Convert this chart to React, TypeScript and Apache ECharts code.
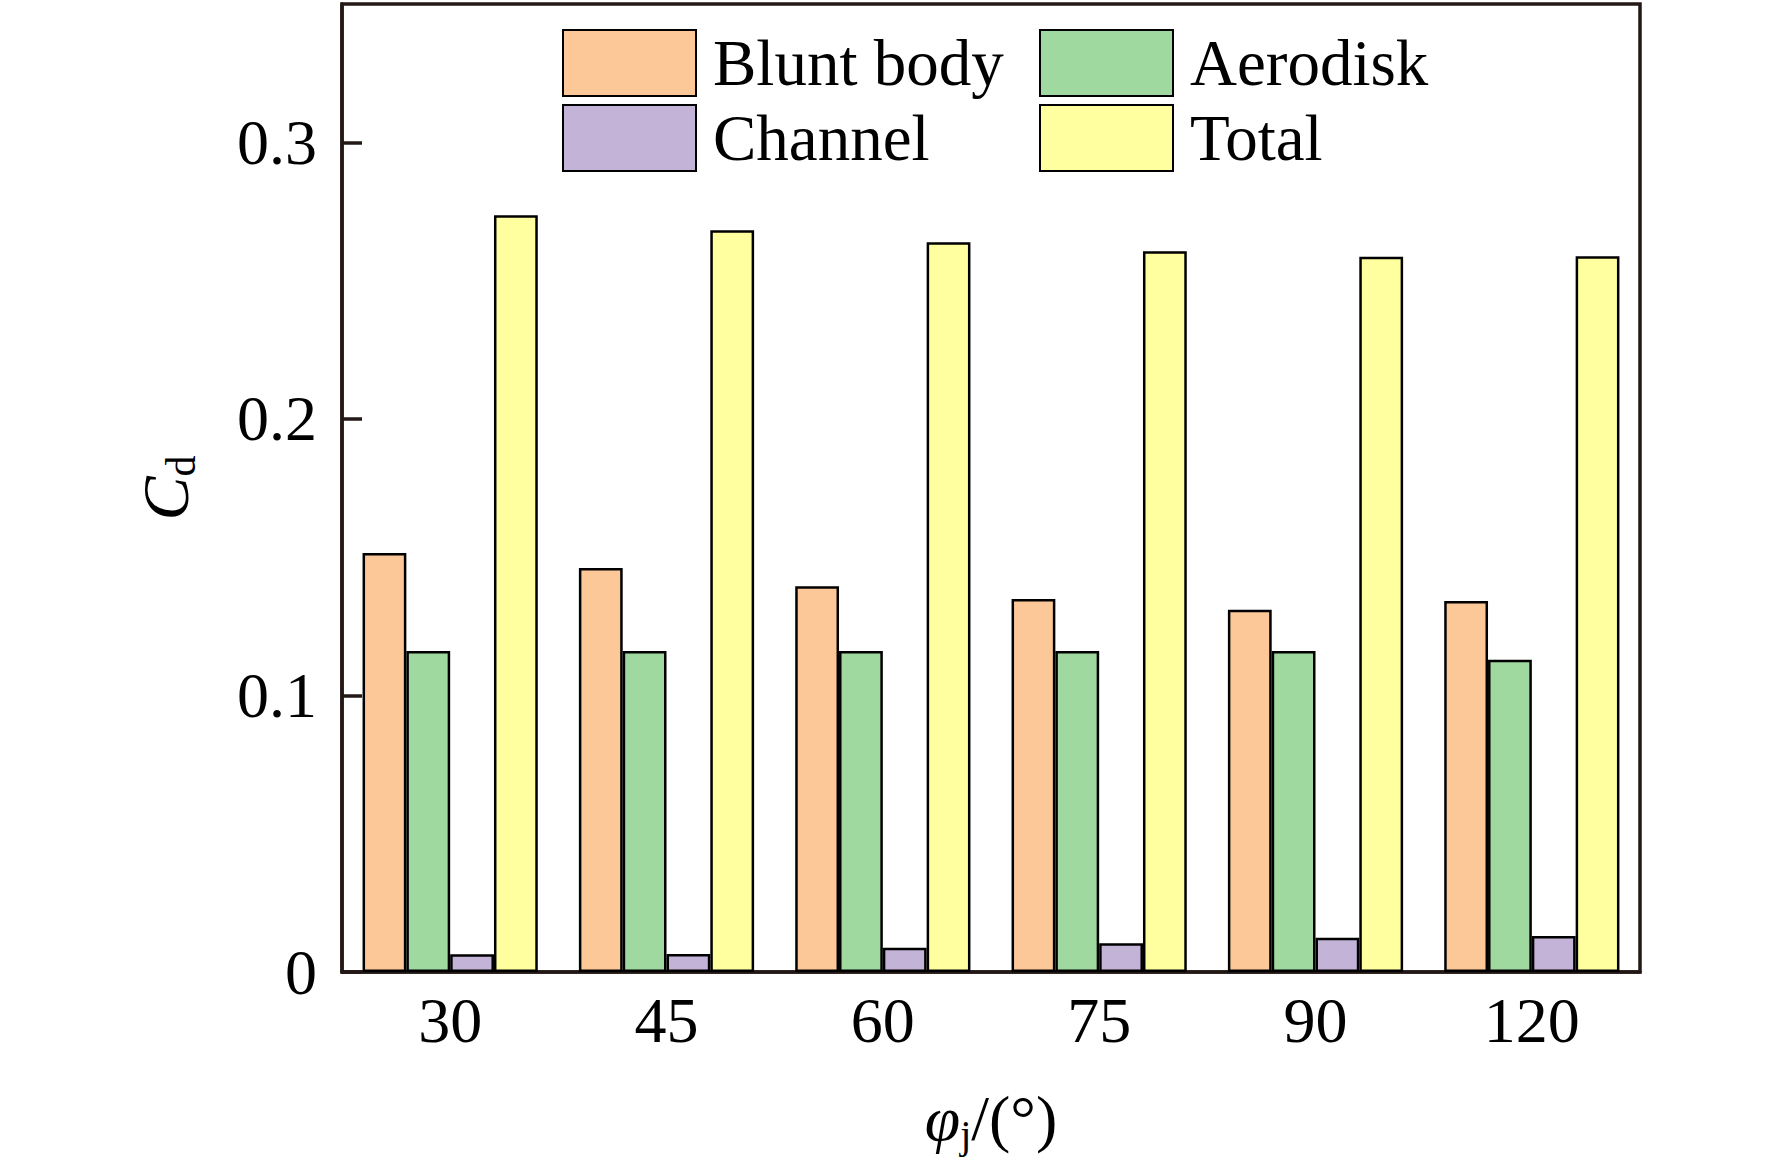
import { useEffect, useRef } from "react";
import * as echarts from "echarts";

const FONT = "'Liberation Serif', 'Times New Roman', serif";
const INK = "#231815";

// 射流角 φj (°)
const ANGLES = ["30", "45", "60", "75", "90", "120"];
// Cd 分量
const BLUNT_BODY = [0.1515, 0.1461, 0.1395, 0.1349, 0.131, 0.1341];
const AERODISK = [0.1161, 0.1161, 0.1161, 0.1161, 0.1161, 0.1129];
const CHANNEL = [0.0064, 0.0065, 0.0088, 0.0104, 0.0124, 0.013];
const TOTAL = [0.2736, 0.2682, 0.2639, 0.2606, 0.2586, 0.2588];

const Y_MIN = 0;
const Y_MAX = 0.35;
const Y_STEP = 0.1;

const SERIES = [
  { name: "Blunt body", data: BLUNT_BODY, color: "#FDC897" },
  { name: "Aerodisk", data: AERODISK, color: "#A0D9A0" },
  { name: "Channel", data: CHANNEL, color: "#C3B3D6" },
  { name: "Total", data: TOTAL, color: "#FFFF9F" },
];

const legendBase = {
  orient: "vertical" as const,
  top: 24,
  itemWidth: 133,
  itemHeight: 66,
  itemGap: 7,
  icon: "rect",
  textStyle: { fontFamily: FONT, fontSize: 65, color: "#000", padding: [0, 0, 0, 12] },
};

export default function App() {
  const elRef = useRef<HTMLDivElement>(null);

  useEffect(() => {
    document.body.style.margin = "0";
    const el = elRef.current;
    if (!el) return;
    const chart = echarts.init(el, undefined, { renderer: "svg" });

    chart.setOption({
      animation: false,
      backgroundColor: "#fff",
      grid: {
        left: 342,
        right: 132,
        top: 4,
        bottom: 202,
        show: true,
        borderColor: INK,
        borderWidth: 3.5,
      },
      legend: [
        { ...legendBase, left: 557, data: ["Blunt body", "Channel"] },
        { ...legendBase, left: 1034, data: ["Aerodisk", "Total"] },
      ],
      xAxis: {
        type: "category",
        data: ANGLES,
        name: "{phi|φ}{sub|j}{txt|/(°)}",
        nameLocation: "middle",
        nameGap: 110,
        nameTextStyle: {
          fontFamily: FONT,
          color: "#000",
          rich: {
            phi: { fontFamily: FONT, fontSize: 64, fontStyle: "italic", lineHeight: 72, color: "#000" },
            sub: { fontFamily: FONT, fontSize: 40, verticalAlign: "bottom", lineHeight: 72, color: "#000" },
            txt: { fontFamily: FONT, fontSize: 64, lineHeight: 72, color: "#000" },
          },
        },
        axisLine: { lineStyle: { color: INK, width: 3.5 } },
        axisTick: { inside: true, alignWithLabel: true, length: 20, lineStyle: { color: INK, width: 3.5 } },
        axisLabel: { fontFamily: FONT, fontSize: 64, color: "#000", margin: 16 },
      },
      yAxis: {
        type: "value",
        min: Y_MIN,
        max: Y_MAX,
        interval: Y_STEP,
        name: "{c|C}{sub|d}",
        nameLocation: "middle",
        nameRotate: 90,
        nameGap: 140,
        nameTextStyle: {
          fontFamily: FONT,
          color: "#000",
          rich: {
            c: { fontFamily: FONT, fontSize: 66, fontStyle: "italic", lineHeight: 74, color: "#000" },
            sub: { fontFamily: FONT, fontSize: 42, verticalAlign: "bottom", lineHeight: 74, color: "#000" },
          },
        },
        splitLine: { show: false },
        axisLine: { show: true, lineStyle: { color: INK, width: 3.5 } },
        axisTick: { show: true, inside: true, length: 20, lineStyle: { color: INK, width: 3.5 } },
        axisLabel: {
          fontFamily: FONT,
          fontSize: 64,
          color: "#000",
          margin: 25,
          showMaxLabel: false,
          formatter: (v: number) => (v === 0 ? "0" : v.toFixed(1)),
        },
      },
      series: SERIES.map((s) => ({
        name: s.name,
        type: "bar",
        data: s.data,
        barGap: "0%",
        barCategoryGap: "19%",
        itemStyle: { color: s.color, borderColor: "#000", borderWidth: 2.5 },
      })),
    });

    return () => chart.dispose();
  }, []);

  return <div ref={elRef} style={{ width: 1772, height: 1174 }} />;
}
